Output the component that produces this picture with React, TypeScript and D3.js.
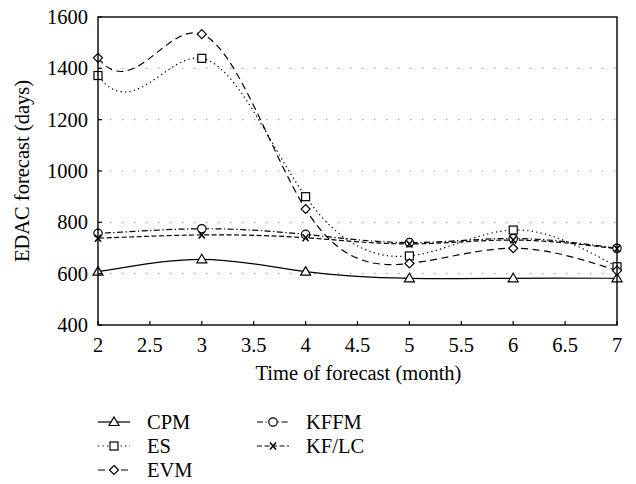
import React from "react";
import * as d3 from "d3";

// Month 1 lies left of the visible axis (clipped); it shapes the spline entering month 2.
const months = [1, 2, 3, 4, 5, 6, 7];
const cpm = [565, 608, 656, 608, 582, 582, 582];
const es = [2850, 1372, 1439, 900, 669, 770, 627];
const evm = [2950, 1441, 1533, 852, 640, 699, 612];
const kffm = [745, 757, 775, 753, 721, 737, 699];
const kflc = [725, 738, 751, 740, 716, 731, 697];

const xTicks = [2, 2.5, 3, 3.5, 4, 4.5, 5, 5.5, 6, 6.5, 7];
const yTicks = [400, 600, 800, 1000, 1200, 1400, 1600];
const gridValues = [600, 800, 1000, 1200, 1400];

const seriesNames = ["CPM", "ES", "EVM", "KFFM", "KF/LC"];
const seriesValues = [cpm, es, evm, kffm, kflc];
const seriesDash = ["none", "1.3,3.2", "7,4.5", "6,2.5,1.3,2.5", "5,2.5"];
const seriesMarker = ["triangle", "square", "diamond", "circle", "cross"];

const W = 636, H = 484;
const M = { left: 98, right: 617, top: 17, bottom: 325 };
const FONT = "'Liberation Serif', 'DejaVu Serif', Times, serif";
const FS = 20.5;

function Marker({ type, x, y }: { type: string; x: number; y: number }) {
  const s = 4.5;
  const common = { fill: "white", stroke: "black", strokeWidth: 1.2 };
  if (type === "triangle")
    return <path d={`M${x},${y - s - 0.5} L${x + s + 0.5},${y + s - 1} L${x - s - 0.5},${y + s - 1} Z`} {...common} />;
  if (type === "square")
    return <rect x={x - 4} y={y - 4} width={8} height={8} {...common} />;
  if (type === "diamond")
    return <path d={`M${x},${y - s} L${x + s},${y} L${x},${y + s} L${x - s},${y} Z`} {...common} />;
  if (type === "circle") return <circle cx={x} cy={y} r={4.2} {...common} />;
  return (
    <g stroke="black" strokeWidth={1.5}>
      <line x1={x - 3} y1={y - 3.5} x2={x + 3} y2={y + 3.5} />
      <line x1={x + 3} y1={y - 3.5} x2={x - 3} y2={y + 3.5} />
    </g>
  );
}

export default function App() {
  const x = d3.scaleLinear().domain([2, 7]).range([M.left, M.right]);
  const y = d3.scaleLinear().domain([400, 1600]).range([M.bottom, M.top]);
  const line = d3
    .line<number>()
    .x((_, i) => x(months[i]))
    .y((d) => y(d))
    .curve(d3.curveNatural);

  const legendRows = [
    { col: 0, row: 0 },
    { col: 0, row: 1 },
    { col: 0, row: 2 },
    { col: 1, row: 0 },
    { col: 1, row: 1 },
  ];

  return (
    <svg
      width={W}
      height={H}
      style={{ position: "absolute", left: 0, top: 0, background: "white" }}
      fontFamily={FONT}
    >
      <defs>
        <clipPath id="plotClip">
          <rect x={M.left} y={M.top} width={M.right - M.left} height={M.bottom - M.top} />
        </clipPath>
      </defs>
      {gridValues.map((v) => (
        <line
          key={v}
          x1={M.left}
          x2={M.right}
          y1={y(v)}
          y2={y(v)}
          stroke="#999"
          strokeWidth={1}
          strokeDasharray="1.5,10.5"
        />
      ))}
      <g clipPath="url(#plotClip)">
        {seriesValues.map((vals, si) => (
          <path
            key={si}
            d={line(vals) || ""}
            fill="none"
            stroke="black"
            strokeWidth={1.2}
            strokeDasharray={seriesDash[si]}
          />
        ))}
      </g>
      {seriesValues.map((vals, si) =>
        vals.map((v, i) =>
          months[i] >= 2 ? (
            <Marker key={`${si}-${i}`} type={seriesMarker[si]} x={x(months[i])} y={y(v)} />
          ) : null
        )
      )}
      <rect
        x={M.left}
        y={M.top}
        width={M.right - M.left}
        height={M.bottom - M.top}
        fill="none"
        stroke="black"
        strokeWidth={1.4}
      />
      <g fill="black">
        {xTicks.map((t) => (
          <g key={t}>
            <line x1={x(t)} x2={x(t)} y1={M.bottom} y2={M.bottom - 4} stroke="black" strokeWidth={1.2} />
            <text x={x(t)} y={352} textAnchor="middle" fontSize={FS}>
              {t}
            </text>
          </g>
        ))}
        {yTicks.map((t) => (
          <g key={t}>
            <line x1={M.left} x2={M.left + 4} y1={y(t)} y2={y(t)} stroke="black" strokeWidth={1.2} />
            <text x={88} y={y(t) + 7} textAnchor="end" fontSize={FS}>
              {t}
            </text>
          </g>
        ))}
        <text x={(M.left + M.right) / 2 + 1} y={380} textAnchor="middle" fontSize={FS}>
          Time of forecast (month)
        </text>
        <text
          transform={`translate(29,${(M.top + M.bottom) / 2}) rotate(-90)`}
          textAnchor="middle"
          fontSize={FS}
        >
          EDAC forecast (days)
        </text>
        {seriesNames.map((name, si) => {
          const { col, row } = legendRows[si];
          const x0 = col === 0 ? 98 : 257;
          const cy = 422 + row * 24;
          return (
            <g key={name}>
              <line
                x1={x0}
                x2={x0 + 32}
                y1={cy}
                y2={cy}
                stroke="black"
                strokeWidth={1.2}
                strokeDasharray={seriesDash[si]}
              />
              <Marker type={seriesMarker[si]} x={x0 + 16} y={cy} />
              <text x={x0 + 49} y={cy + 7} fontSize={FS}>
                {name}
              </text>
            </g>
          );
        })}
      </g>
    </svg>
  );
}
